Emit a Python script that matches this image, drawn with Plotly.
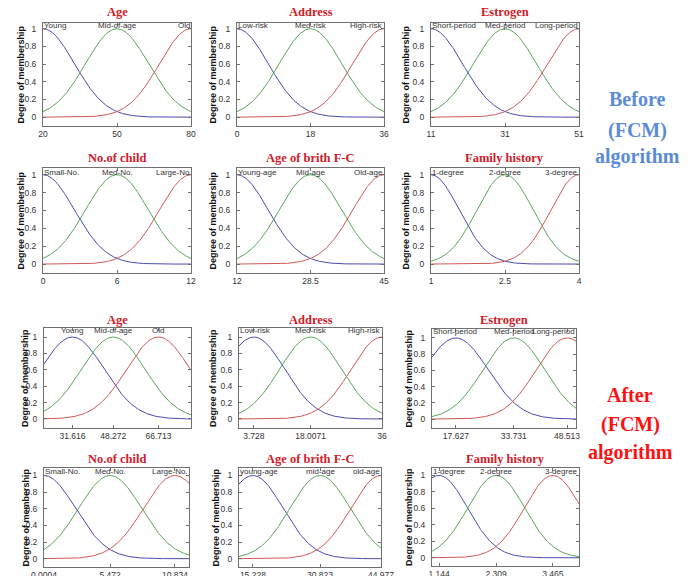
import numpy as np
import plotly.graph_objects as go

# the page body has an 8px margin, so the figure is drawn 8px in from the window corner
OFF = 8
W, H = 699 - OFF, 576 - OFF

# ---------------- data ----------------
titles = ["Age", "Address", "Estrogen", "No.of child", "Age of brith F-C", "Family history"]
x_ranges = [[20, 80], [0, 36], [11, 51], [0, 12], [12, 45], [1, 4]]

# Before FCM: gaussian membership function centres / widths
centers_before = [[20, 50, 80], [0, 18, 36], [11, 31, 51], [0, 6, 12], [12, 28.5, 45], [1, 2.5, 4]]
sigmas_before = [[12.74, 12.74, 12.74], [7.64, 7.64, 7.64], [8.49, 8.49, 8.49],
                 [2.55, 2.55, 2.55], [7.0, 7.0, 7.0], [0.57, 0.57, 0.57]]
ticks_before = [[20, 50, 80], [0, 18, 36], [11, 31, 51], [0, 6, 12], [12, 28.5, 45], [1, 2.5, 4]]
ticktext_before = [["20", "50", "80"], ["0", "18", "36"], ["11", "31", "51"],
                   ["0", "6", "12"], ["12", "28.5", "45"], ["1", "2.5", "4"]]
labels_before = [["Young", "Mid-of-age", "Old"], ["Low-risk", "Med-risk", "High-risk"],
                 ["Short-period", "Med-period", "Long-period"], ["Small-No.", "Med-No.", "Large-No"],
                 ["Young-age", "Mid-age", "Old-age"], ["1-degree", "2-degree", "3-degree"]]

# After FCM
centers_after = [[31.616, 48.272, 66.713], [3.728, 18.0071, 36], [17.627, 33.731, 48.513],
                 [0.0004, 5.472, 10.834], [15.228, 30.823, 44.977], [1.144, 2.309, 3.465]]
sigmas_after = [[13.0, 13.0, 13.0], [7.8, 7.8, 7.8], [9.0, 8.6, 8.6],
                [2.6, 2.6, 2.6], [7.0, 7.0, 7.0], [0.58, 0.58, 0.58]]
ticktext_after = [["31.616", "48.272", "66.713"], ["3.728", "18.0071", "36"],
                  ["17.627", "33.731", "48.513"], ["0.0004", "5.472", "10.834"],
                  ["15.228", "30.823", "44.977"], ["1.144", "2.309", "3.465"]]
labels_after = [["Young", "Mid-of-age", "Old"], ["Low-risk", "Med-risk", "High-risk"],
                ["Short-period", "Med-period", "Long-period"], ["Small-No.", "Med-No.", "Large-No."],
                ["young-age", "mid-age", "old-age"], ["1-degree", "2-degree", "3-degree"]]

y_tickvals = [0, 0.2, 0.4, 0.6, 0.8, 1]
y_ticktext = ["0", "0.2", "0.4", "0.6", "0.8", "1"]

# ---------------- layout (window pixels) ----------------
boxes = [  # left, right, top, bottom
    (43, 191, 23, 126), (237, 384, 23, 126), (431, 579, 23, 126),
    (43, 191, 168, 273), (237, 384, 168, 273), (431, 579, 168, 273),
    (44, 191, 328, 428), (239, 382, 328, 428), (432, 576, 329, 428),
    (44, 189, 468, 567), (239, 381, 468, 567), (432, 579, 468, 566),
]
row_yrange = [[-0.1, 1.065], [-0.1, 1.075], [-0.11, 1.11], [-0.1, 1.09]]
row_label_y = [1.04, 1.03, 1.08, 1.05]
title_y = [12, 158, 320, 459]
ylab_x = [[21, 213, 406], [21, 213, 406], [25, 213, 408], [25, 215, 409]]
anchors_before = [["left", "center", "right"]] * 6
anchors_after = [["center", "center", "center"], ["left", "center", "right"],
                 ["left", "center", "right"], ["left", "center", "right"],
                 ["left", "center", "right"], ["left", "center", "right"]]

colors = ["#4b4bb0", "#5aa65a", "#d25858"]
TICKFONT = dict(family="Liberation Sans, Arial, sans-serif", size=8.5, color="#333")
LABFONT = dict(family="Liberation Sans, Arial, sans-serif", size=8, color="#333")
AXCOL = "#707070"


def px_x(s):
    return (s - OFF) / W


def px_y(s):
    return 1 - (s - OFF) / H


fig = go.Figure()
annotations = []
layout = {}

for k in range(12):
    row, col = divmod(k, 3)
    after = row >= 2
    v = (row % 2) * 3 + col
    n = k + 1
    xs = "" if n == 1 else str(n)
    xr = x_ranges[v]
    cents = centers_after[v] if after else centers_before[v]
    sigs = sigmas_after[v] if after else sigmas_before[v]
    labs = labels_after[v] if after else labels_before[v]
    anch = anchors_after[v] if after else anchors_before[v]
    if after:
        tv, tt = cents, ticktext_after[v]
    else:
        tv, tt = ticks_before[v], ticktext_before[v]

    x = np.linspace(xr[0], xr[1], 300)
    for c, s, colr in zip(cents, sigs, colors):
        y = np.exp(-((x - c) ** 2) / (2 * s * s))  # gaussmf(c, sigma)
        fig.add_trace(go.Scatter(x=x, y=y, mode="lines", line=dict(color=colr, width=1),
                                 xaxis="x" + xs, yaxis="y" + xs, showlegend=False, hoverinfo="skip"))

    l, r, t, b = boxes[k]
    layout["xaxis" + xs] = dict(domain=[px_x(l), px_x(r)], anchor="y" + xs, range=xr, automargin=False,
                                tickvals=tv, ticktext=tt, ticks="inside", ticklen=3,
                                tickcolor=AXCOL, showline=True, linecolor=AXCOL, linewidth=1,
                                mirror="ticks", showgrid=False, zeroline=False, tickfont=TICKFONT)
    layout["yaxis" + xs] = dict(domain=[px_y(b), px_y(t)], anchor="x" + xs, range=row_yrange[row],
                                automargin=False,
                                tickvals=y_tickvals, ticktext=y_ticktext, ticks="inside", ticklen=3,
                                tickcolor=AXCOL, showline=True, linecolor=AXCOL, linewidth=1,
                                mirror="ticks", showgrid=False, zeroline=False, tickfont=TICKFONT,
                                ticklabelstandoff=4)

    # MF labels
    for c, lab, a in zip(cents, labs, anch):
        if a == "left":
            ax_ = xr[0]
        elif a == "right":
            ax_ = xr[1]
        else:
            ax_ = c
        annotations.append(dict(x=ax_, y=row_label_y[row], xref="x" + xs, yref="y" + xs,
                                text=lab, showarrow=False, xanchor=a, yanchor="middle",
                                font=LABFONT, borderpad=0))
    # title
    annotations.append(dict(x=px_x((l + r) / 2), y=px_y(title_y[row]), xref="paper", yref="paper",
                            text="<b>" + titles[v] + "</b>", showarrow=False, xanchor="center",
                            yanchor="middle",
                            font=dict(family="Liberation Serif, Times New Roman, serif", size=12.5,
                                      color="#d0202a")))
    # y-axis title
    annotations.append(dict(x=px_x(ylab_x[row][col]), y=px_y((t + b) / 2), xref="paper", yref="paper",
                            text="<b>Degree of membership</b>", showarrow=False, textangle=-90,
                            xanchor="center", yanchor="middle",
                            font=dict(family="Liberation Sans, Arial, sans-serif", size=9, color="#111")))

side = [("Before", 637, 99, "#5b8bd6"), ("(FCM)", 637, 130, "#5b8bd6"), ("algorithm", 637, 157, "#5b8bd6"),
        ("After", 630, 395, "#ff1010"), ("(FCM)", 630, 424, "#ff1010"), ("algorithm", 630, 452, "#ff1010")]
for txt, sx, sy, sc in side:
    annotations.append(dict(x=px_x(sx), y=px_y(sy), xref="paper", yref="paper", text="<b>" + txt + "</b>",
                            showarrow=False, xanchor="center", yanchor="middle",
                            font=dict(family="Liberation Serif, Times New Roman, serif", size=20, color=sc)))

fig.update_layout(width=W, height=H, margin=dict(l=0, r=0, t=0, b=0, pad=0, autoexpand=False),
                  paper_bgcolor="white", plot_bgcolor="white", annotations=annotations, **layout)

fig.write_html("out.html")
